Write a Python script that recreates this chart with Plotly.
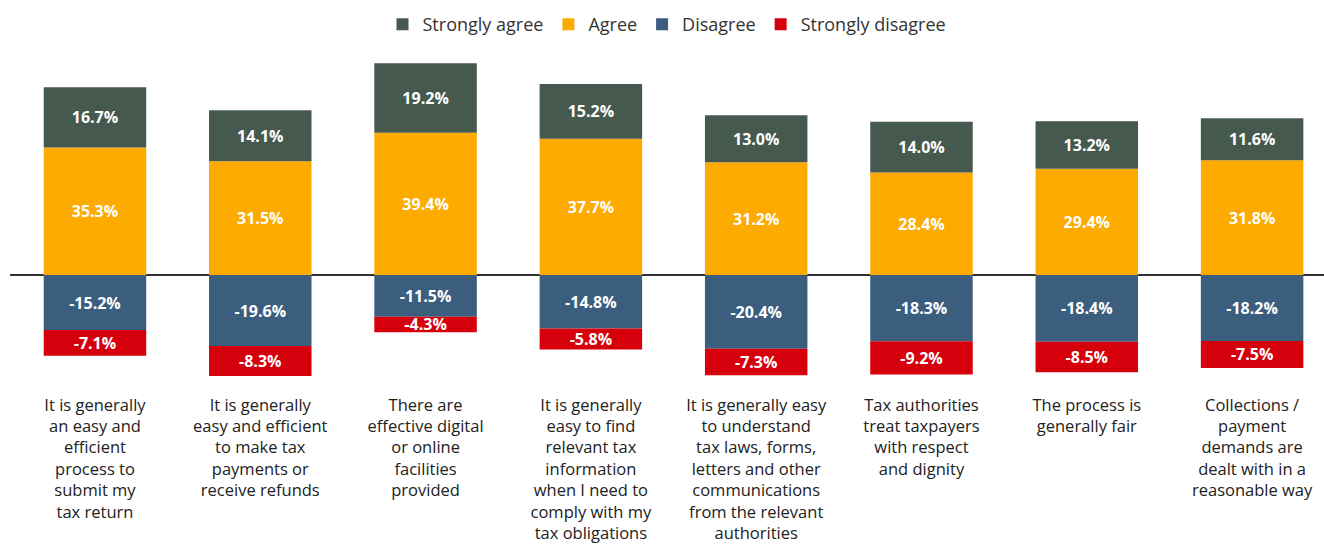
import plotly.graph_objects as go

# Survey statements (category labels, wrapped by hand)
statements = [
    "It is generally<br>an easy and<br>efficient<br>process to<br>submit my<br>tax return",
    "It is generally<br>easy and efficient<br>to make tax<br>payments or<br>receive refunds",
    "There are<br>effective digital<br>or online<br>facilities<br>provided",
    "It is generally<br>easy to find<br>relevant tax<br>information<br>when I need to<br>comply with my<br>tax obligations",
    "It is generally easy<br>to understand<br>tax laws, forms,<br>letters and other<br>communications<br>from the relevant<br>authorities",
    "Tax authorities<br>treat taxpayers<br>with respect<br>and dignity",
    "The process is<br>generally fair",
    "Collections /<br>payment<br>demands are<br>dealt with in a<br>reasonable way",
]

strongly_agree = [16.7, 14.1, 19.2, 15.2, 13.0, 14.0, 13.2, 11.6]
agree = [35.3, 31.5, 39.4, 37.7, 31.2, 28.4, 29.4, 31.8]
disagree = [-15.2, -19.6, -11.5, -14.8, -20.4, -18.3, -18.4, -18.2]
strongly_disagree = [-7.1, -8.3, -4.3, -5.8, -7.3, -9.2, -8.5, -7.5]

colors = {
    "Strongly agree": "#46594f",
    "Agree": "#fdab00",
    "Disagree": "#3b5d7e",
    "Strongly disagree": "#d6000d",
}

x = list(range(len(statements)))

# Trace order controls stacking: Agree sits on the axis, Strongly agree on top;
# Disagree hangs from the axis, Strongly disagree below it.
series = [
    ("Agree", agree, 2),
    ("Disagree", disagree, 3),
    ("Strongly agree", strongly_agree, 1),
    ("Strongly disagree", strongly_disagree, 4),
]

fig = go.Figure()
for name, vals, rank in series:
    fig.add_trace(go.Bar(
        x=x,
        y=vals,
        name=name,
        legendrank=rank,
        marker=dict(color=colors[name], line=dict(width=0)),
        width=0.62,
        text=[f"{v:.1f}%" for v in vals],
        textposition="inside",
        insidetextanchor="middle",
        constraintext="none",
        textangle=0,
        textfont=dict(family="Open Sans", size=16, color="white", weight="bold"),
        hoverinfo="skip",
    ))

fig.update_layout(
    barmode="relative",
    width=1324,
    height=549,
    margin=dict(l=10, r=0, t=55, b=164, autoexpand=False),
    paper_bgcolor="white",
    plot_bgcolor="white",
    font=dict(family="Open Sans", color="#222222"),
    legend=dict(
        orientation="h",
        x=0.5,
        xanchor="center",
        y=1.036,
        yanchor="bottom",
        font=dict(size=18, color="#333333"),
        traceorder="normal",
        itemwidth=30,
    ),
    xaxis=dict(
        range=[-0.514, 7.435],
        tickmode="array",
        tickvals=x,
        ticktext=statements,
        tickfont=dict(size=16.5, color="#222222"),
        ticklabelstandoff=8,
        showgrid=False,
        showline=False,
        ticks="",
        zeroline=False,
    ),
    yaxis=dict(
        range=[-30.4, 60.9],
        showticklabels=False,
        showgrid=False,
        ticks="",
        zeroline=True,
        zerolinecolor="#333333",
        zerolinewidth=1.5,
    ),
)

fig.write_html("out.html")
